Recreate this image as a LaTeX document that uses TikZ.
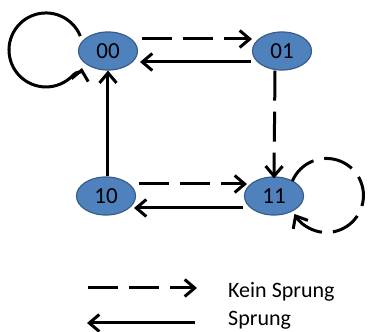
\documentclass[tikz,border=0pt]{standalone}
\usepackage{fontspec}
\setmainfont{Carlito}
\usetikzlibrary{arrows.meta,calc,shapes.geometric}
\definecolor{nodefill}{HTML}{4F81BD}
\definecolor{nodeline}{HTML}{385D8A}
\begin{document}
\begin{tikzpicture}[x=1pt,y=1pt,
  state/.style={ellipse, fill=nodefill, draw=nodeline, line width=1.2pt,
    minimum width=59pt, minimum height=38pt, inner sep=0pt,
    font=\fontsize{23}{26}\selectfont},
  conn/.style={line width=3pt, -{Straight Barb[length=10pt,width=17pt]}},
  jump/.style={conn},
  nojump/.style={conn, dash pattern=on 30pt off 11pt},
  legtext/.style={anchor=base west, inner sep=0pt, font=\fontsize{22}{26}\selectfont}]
\useasboundingbox (0,0) rectangle (368,332);
\node[state] (n00) at (108,281) {00};
\node[state] (n01) at (282,281) {01};
\node[state] (n10) at (106,136) {10};
\node[state] (n11) at (274,136) {11};
% horizontal connectors
\draw[nojump] ($(n00)+(34,12)$) -- ($(n01)+(-30,12)$);
\draw[jump] ($(n01)+(-31,-11)$) -- ($(n00)+(32,-11)$);
\draw[nojump] ($(n10)+(33,12)$) -- ($(n11)+(-27,12)$);
\draw[jump] ($(n11)+(-31,-12)$) -- ($(n10)+(28,-12)$);
% vertical connectors
\draw[jump] ($(n10.north)+(2,0)$) -- (n00.south);
\draw[nojump] ($(n01.south)+(-7,0)$) -- ($(n11.north)+(0,-2)$);
% self loops
\draw[jump] ($(n00)+(-27.7,14.9)$) arc[start angle=22, end angle=318, radius=37]
  to[out=48, in=-100] ($(n00)+(-26,-17)$);
\draw[nojump] ($(n11)+(18.4,15)$) arc[start angle=157, end angle=-150, radius=37];
% legend
\coordinate (l1a) at (88,44);
\coordinate (l1b) at (197,44);
\coordinate (l2a) at (195,9);
\coordinate (l2b) at (87,9);
\draw[nojump] (l1a) -- (l1b);
\draw[jump] (l2a) -- (l2b);
\node[legtext] (t1) at (228,34) {Kein Sprung};
\node[legtext] (t2) at (228,6) {Sprung};
\end{tikzpicture}
\end{document}
